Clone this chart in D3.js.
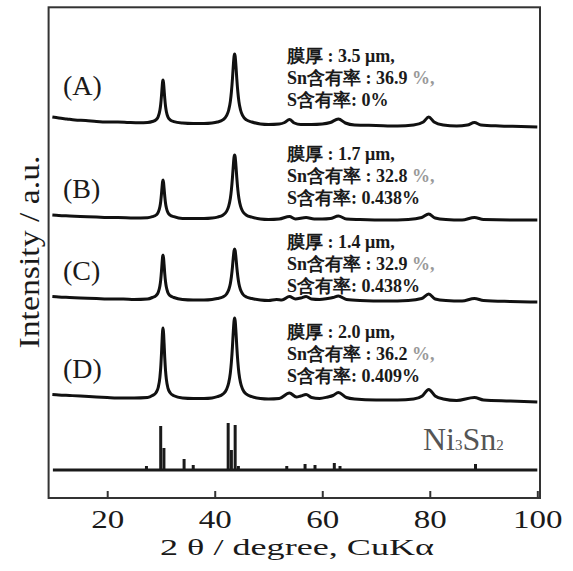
<!DOCTYPE html>
<html>
<head>
<meta charset="utf-8">
<script src="https://cdn.jsdelivr.net/npm/d3@7"></script>
<style>
  body { margin: 0; background: #fff; }
  text { font-family: "Liberation Serif", "Times New Roman", serif; fill: #1a1a1a; }
</style>
</head>
<body>
<svg id="chart"></svg>
<script>
// sample names and their vertical offsets (a.u.)
const sampleLabels = ["(A)", "(B)", "(C)", "(D)"];
const sampleOffsets = [373, 279, 198, 99];

// film thickness (um), Sn content (%), S content (%)
const filmThickness = ["3.5", "1.7", "1.4", "2.0"];
const snContent = ["36.9", "32.8", "32.9", "36.2"];
const sContent = ["0", "0.438", "0.438", "0.409"];

// XRD patterns: [2theta, intensity]
const patternA = [
  [9.8, 8], [11, 7], [12.5, 6], [14, 5], [16, 4.5], [18, 3.5], [20, 3], [22, 3], [24, 2.5], [26, 2.2], [27.5, 2.5],
  [28.4, 3.5], [29.1, 5.4], [29.5, 8.6], [29.8, 14.7], [29.95, 20.5], [30.1, 29.5], [30.2, 36.8], [30.3, 43.1], [30.38, 45],
  [30.48, 42.2], [30.58, 35.5], [30.7, 27], [30.85, 18.8], [31.0, 13.6], [31.3, 8], [31.7, 5.2], [32.4, 3.4],
  [34, 2], [36, 1.5], [38, 1.5], [39.5, 2],
  [40.5, 3], [41.5, 5.1], [42.2, 9.3], [42.6, 15], [42.9, 23.4], [43.1, 33], [43.3, 46.5], [43.45, 59], [43.6, 68.8], [43.7, 71],
  [43.8, 68.8], [43.95, 59], [44.1, 46.5], [44.3, 33], [44.5, 23.4], [44.8, 15], [45.2, 9.3], [45.9, 5.1], [46.9, 3],
  [48.5, 1], [50, 0.5], [52, 1], [53, 2.5], [53.9, 5.5], [54.8, 2], [56, 0.5], [58, 0.5], [60, 1], [61.5, 2.5], [63, 6],
  [64.3, 2], [66, 0], [70, -0.5], [74, -1], [77, 0], [78.8, 3], [79.8, 8], [80.8, 3], [82.5, 0], [85, -1], [87, 0],
  [88.3, 2.5], [89.5, 0], [93, -1], [97, -1.5], [100, -2]
];
const patternB = [
  [9.8, 4], [11, 3.5], [13, 3], [15, 2.5], [18, 2], [20, 1.5], [22, 1.5], [25, 1], [27.5, 1.2],
  [28.4, 2.3], [29.1, 4], [29.5, 6.9], [29.8, 12.2], [29.95, 17.3], [30.1, 25.3], [30.2, 31.8], [30.3, 37.3], [30.38, 39],
  [30.48, 36.5], [30.58, 30.6], [30.7, 23], [30.85, 15.8], [31.0, 11.3], [31.3, 6.3], [31.7, 3.9], [32.4, 2.3],
  [34, 0.5], [36, 0.5], [38, 0.5], [39.5, 1],
  [40.5, 1.9], [41.5, 3.8], [42.2, 7.6], [42.6, 12.8], [42.9, 20.5], [43.1, 29.2], [43.3, 41.6], [43.45, 53], [43.6, 62], [43.7, 64],
  [43.8, 62], [43.95, 53], [44.1, 41.6], [44.3, 29.2], [44.5, 20.5], [44.8, 12.8], [45.2, 7.6], [45.9, 3.8], [46.9, 1.9],
  [48.5, 0], [50, -0.5], [52, 0], [53.9, 2.5], [55, 0], [57, 1.5], [58.5, 0], [60, 0], [61.5, 0.5], [63, 3], [64.5, 0],
  [67, -0.5], [72, -1], [76, -0.5], [78.5, 1.5], [79.8, 5], [81, 1], [83, -0.5], [86, -1], [88.3, 1.5], [90, -0.5],
  [95, -1], [100, -1]
];
const patternC = [
  [9.8, 3.5], [11, 3], [13, 2.5], [15, 2], [18, 1.5], [20, 1], [23, 1], [25, 0.5], [27.5, 1],
  [28.4, 2.5], [29.1, 4.5], [29.5, 7.8], [29.8, 14], [29.95, 19.9], [30.1, 29.2], [30.2, 36.6], [30.3, 43.1], [30.38, 45],
  [30.48, 42.1], [30.58, 35.3], [30.7, 26.5], [30.85, 18.2], [31.0, 12.9], [31.3, 7.2], [31.7, 4.3], [32.4, 2.5],
  [34, 0.5], [36, 0], [38, 0], [39.5, 0.5],
  [40.5, 1.5], [41.5, 3], [42.2, 6], [42.6, 10.2], [42.9, 16.3], [43.1, 23.3], [43.3, 33.2], [43.45, 42.3], [43.6, 49.4], [43.7, 51],
  [43.8, 49.4], [43.95, 42.3], [44.1, 33.2], [44.3, 23.3], [44.5, 16.3], [44.8, 10.2], [45.2, 6], [45.9, 3], [46.9, 1.5],
  [48.5, 0], [50, -0.5], [51.5, 0.5], [52.5, 0], [53.9, 3.5], [55, 1], [56, 2], [57, 3.5], [58, 1], [59.5, 0.5], [61, 1.5],
  [62, 2.5], [63, 4], [64.5, 0.5], [67, -0.5], [72, -1], [76, -0.5], [78.5, 1.5], [79.8, 6], [81, 1], [83, -0.5],
  [86, -1], [88.3, 1.5], [90, -0.5], [95, -1.5], [100, -2]
];
const patternD = [
  [9.8, 4.5], [11, 4], [13, 3.5], [15, 3], [18, 2], [20, 1.5], [23, 1], [25, 1], [27.5, 1.5],
  [28.4, 3.4], [29.1, 6.6], [29.5, 11.8], [29.8, 21.7], [29.95, 31.1], [30.1, 45.8], [30.2, 57.7], [30.3, 67.9], [30.38, 71],
  [30.48, 66.4], [30.58, 55.6], [30.7, 41.6], [30.85, 28.3], [31.0, 19.9], [31.3, 10.8], [31.7, 6.3], [32.4, 3.3],
  [34, 1], [36, 0.5], [38, 0.5], [39.5, 1],
  [40.5, 2.3], [41.5, 4.8], [42.2, 9.6], [42.6, 16.2], [42.9, 25.9], [43.1, 37], [43.3, 52.7], [43.45, 67.2], [43.6, 78.4], [43.7, 81],
  [43.8, 78.4], [43.95, 67.2], [44.1, 52.7], [44.3, 37], [44.5, 25.9], [44.8, 16.2], [45.2, 9.6], [45.9, 4.8], [46.9, 2.3],
  [48.5, 0.5], [50, 0], [52, 0.5], [53.9, 6], [55.2, 2], [56, 3], [57, 4.5], [58, 1.5], [59.5, 0.5], [61, 2], [62, 3.5],
  [63, 6.5], [64.5, 1.5], [66, 0], [70, -1], [74, -1], [77, 0], [78.6, 3], [79.8, 9.5], [81, 3], [82.5, 0], [85, -1.5],
  [88.3, 1.5], [90, -1], [95, -2], [100, -3]
];
const patterns = [patternA, patternB, patternC, patternD];

// Ni3Sn2 reference pattern (stick positions and relative heights)
const refOffset = 28;
const refTwoTheta = [27.3, 29.95, 30.55, 34.3, 36.0, 42.5, 43.1, 43.8, 44.4, 53.4, 56.8, 58.65, 62.24, 63.3, 88.5];
const refIntensity = [4, 44, 22, 11, 5, 47, 20, 45, 4, 4, 6, 5, 7, 4, 6];

const xTicks = [20, 40, 60, 80, 100];

function createChart() {
  const width = 573;
  const height = 571;
  const left = 48.6, right = 540, top = 7.3, bottom = 498;

  const svg = d3.select("#chart")
    .attr("width", width)
    .attr("height", height);

  const x = d3.scaleLinear().domain([9.1, 100.5]).range([left, right]);
  const y = d3.scaleLinear().domain([0, bottom - top]).range([bottom, top]);

  const line = d3.line()
    .x(d => x(d[0]))
    .y(d => y(d[1]))
    .curve(d3.curveMonotoneX);

  // patterns
  svg.append("g")
    .selectAll("path")
    .data(patterns)
    .join("path")
    .attr("d", (p, i) => line(p.map(d => [d[0], d[1] + sampleOffsets[i]])))
    .attr("fill", "none")
    .attr("stroke", "#111")
    .attr("stroke-width", 3)
    .attr("stroke-linejoin", "round");

  // reference sticks
  const ref = svg.append("g").attr("stroke", "#1a1a1a");
  ref.append("line")
    .attr("x1", x(9.9)).attr("x2", x(100))
    .attr("y1", y(refOffset)).attr("y2", y(refOffset))
    .attr("stroke-width", 3);
  ref.selectAll("line.stick")
    .data(refTwoTheta)
    .join("line")
    .attr("class", "stick")
    .attr("x1", d => x(d)).attr("x2", d => x(d))
    .attr("y1", y(refOffset))
    .attr("y2", (d, i) => y(refOffset + refIntensity[i]))
    .attr("stroke-width", 3);

  const ni = svg.append("text")
    .attr("x", 423).attr("y", 450)
    .style("font-size", "32px")
    .style("fill", "#555");
  ni.append("tspan").text("Ni");
  ni.append("tspan").text("3").style("font-size", "15px");
  ni.append("tspan").text("Sn");
  ni.append("tspan").text("2").style("font-size", "15px");

  // sample labels
  const labelY = [95, 198, 280, 378];
  svg.append("g")
    .selectAll("text")
    .data(sampleLabels)
    .join("text")
    .attr("x", 63)
    .attr("y", (d, i) => labelY[i])
    .style("font-size", "28px")
    .text(d => d);

  // annotation blocks
  const noteY = [62, 160, 248, 338];
  const notes = svg.append("g")
    .style("font-family", "'Liberation Serif', 'Noto Sans CJK JP', serif")
    .style("font-weight", "bold")
    .style("font-size", "18px");
  sampleLabels.forEach((s, i) => {
    notes.append("text")
      .attr("x", 287).attr("y", noteY[i])
      .text(`膜厚 : ${filmThickness[i]} μm,`);
    const l2 = notes.append("text")
      .attr("x", 287).attr("y", noteY[i] + 22);
    l2.append("tspan").text(`Sn含有率 : ${snContent[i]}`);
    l2.append("tspan").text(" %,").style("fill", "#999");
    notes.append("text")
      .attr("x", 287).attr("y", noteY[i] + 44)
      .text(`S含有率: ${sContent[i]}%`);
  });

  // frame
  svg.append("rect")
    .attr("x", left).attr("y", top)
    .attr("width", right - left).attr("height", bottom - top)
    .attr("fill", "none")
    .attr("stroke", "#333")
    .attr("stroke-width", 2);

  // x axis, ticks pointing inward
  const xAxis = svg.append("g")
    .attr("transform", `translate(0,${bottom})`)
    .call(d3.axisBottom(x).tickValues(xTicks).tickSizeInner(-7).tickSizeOuter(0).tickPadding(12));
  xAxis.select(".domain").remove();
  xAxis.selectAll("line").attr("stroke", "#333").attr("stroke-width", 2);
  xAxis.selectAll("text")
    .style("font-family", "'Liberation Serif', serif")
    .style("font-size", "25px")
    .attr("fill", "#1a1a1a")
    .attr("textLength", d => String(d).length * 16.5)
    .attr("lengthAdjust", "spacingAndGlyphs");

  svg.append("text")
    .attr("x", 297).attr("y", 555)
    .attr("text-anchor", "middle")
    .attr("textLength", 274)
    .attr("lengthAdjust", "spacingAndGlyphs")
    .style("font-size", "24px")
    .text("2 θ  / degree, CuKα");

  svg.append("text")
    .attr("transform", "translate(39,252) rotate(-90)")
    .attr("text-anchor", "middle")
    .attr("textLength", 193)
    .attr("lengthAdjust", "spacingAndGlyphs")
    .style("font-size", "30px")
    .text("Intensity / a.u.");
}

createChart();
</script>
</body>
</html>
